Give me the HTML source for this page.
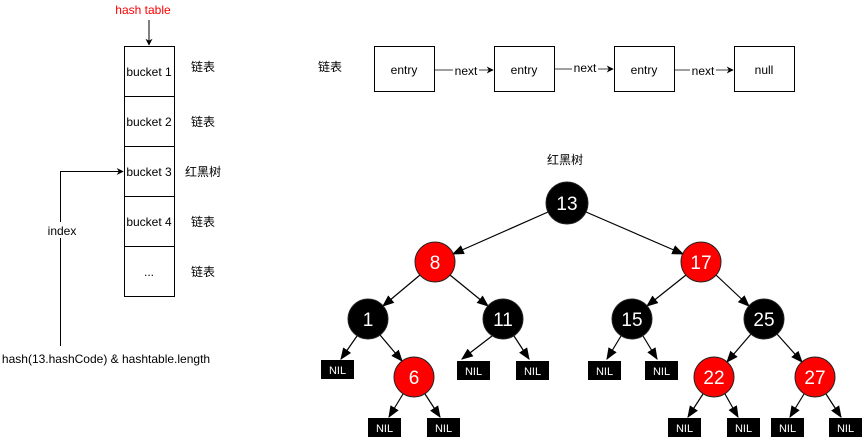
<!DOCTYPE html>
<html><head><meta charset="utf-8"><style>
html,body{margin:0;padding:0;background:#fff;}
svg{display:block;}
text{font-family:"Liberation Sans","Noto Sans CJK SC",sans-serif;}
</style></head><body>
<svg width="867" height="441" viewBox="0 0 867 441" xmlns="http://www.w3.org/2000/svg">
<defs>
<marker id="a" viewBox="0 0 10 10" refX="9" refY="5" markerWidth="7" markerHeight="7" orient="auto" markerUnits="userSpaceOnUse"><path d="M0,0 L10,5 L0,10 L3,5 z" fill="#000"/></marker>
<marker id="b" viewBox="0 0 10 10" refX="9" refY="5" markerWidth="12" markerHeight="12" orient="auto" markerUnits="userSpaceOnUse"><path d="M0,1 L10,5 L0,9 z" fill="#000"/></marker>
</defs>
<!-- hash table -->
<text x="143" y="14" font-size="12" fill="#ff0000" text-anchor="middle">hash table</text>
<line x1="149" y1="20" x2="149" y2="45" stroke="#000" stroke-width="1" marker-end="url(#a)"/>
<g fill="#fff" stroke="#000" stroke-width="1">
<rect x="124.5" y="46.5" width="50" height="50"/>
<rect x="124.5" y="96.5" width="50" height="50"/>
<rect x="124.5" y="146.5" width="50" height="50"/>
<rect x="124.5" y="196.5" width="50" height="50"/>
<rect x="124.5" y="246.5" width="50" height="50"/>
</g>
<g font-size="12" text-anchor="middle" fill="#000">
<text x="149" y="76">bucket 1</text>
<text x="149" y="126">bucket 2</text>
<text x="149" y="176">bucket 3</text>
<text x="149" y="226">bucket 4</text>
<text x="149" y="276">...</text>
<text x="203" y="71">链表</text>
<text x="203" y="126">链表</text>
<text x="203" y="176">红黑树</text>
<text x="203" y="226">链表</text>
<text x="203" y="276">链表</text>
<text x="62" y="235">index</text>
<text x="106" y="363">hash(13.hashCode) &amp; hashtable.length</text>
<text x="330" y="71">链表</text>
<text x="565" y="164">红黑树</text>
</g>
<polyline points="60.5,346 60.5,171.5 123,171.5" fill="none" stroke="#000" marker-end="url(#a)"/>
<rect x="45" y="222" width="34" height="16" fill="#fff"/>
<text x="62" y="235" font-size="12" text-anchor="middle">index</text>
<!-- linked list -->
<g fill="#fff" stroke="#000" stroke-width="1">
<rect x="374.5" y="46.5" width="60" height="45"/>
<rect x="494.5" y="46.5" width="60" height="45"/>
<rect x="614.5" y="46.5" width="60" height="45"/>
<rect x="734.5" y="46.5" width="60" height="45"/>
</g>
<g font-size="12" text-anchor="middle">
<text x="404" y="74">entry</text>
<text x="524" y="74">entry</text>
<text x="644" y="74">entry</text>
<text x="764" y="74">null</text>
</g>
<g stroke="#666" stroke-width="1.2">
<line x1="435" y1="70" x2="493" y2="70" marker-end="url(#a)"/>
<line x1="555" y1="69" x2="613" y2="69" marker-end="url(#a)"/>
<line x1="675" y1="70" x2="733" y2="70" marker-end="url(#a)"/>
</g>
<g font-size="12" text-anchor="middle">
<rect x="453" y="63" width="26" height="14" fill="#fff"/><text x="466" y="75">next</text>
<rect x="572" y="61" width="26" height="14" fill="#fff"/><text x="585" y="72">next</text>
<rect x="690" y="63" width="26" height="14" fill="#fff"/><text x="703" y="75">next</text>
</g>
<!-- tree edges -->
<g stroke="#000" stroke-width="1.2" marker-end="url(#b)">
<line x1="548" y1="212" x2="453" y2="254"/>
<line x1="586" y1="212" x2="683" y2="254"/>
<line x1="420" y1="275" x2="383" y2="306"/>
<line x1="450" y1="275" x2="488" y2="306"/>
<line x1="686" y1="275" x2="647" y2="306"/>
<line x1="716" y1="275" x2="749" y2="306"/>
<line x1="357" y1="336" x2="341" y2="359"/>
<line x1="380" y1="335" x2="402" y2="361"/>
<line x1="492" y1="336" x2="462" y2="359"/>
<line x1="514" y1="336" x2="529" y2="359"/>
<line x1="621" y1="336" x2="607" y2="359"/>
<line x1="643" y1="336" x2="657" y2="359"/>
<line x1="751" y1="334" x2="727" y2="362"/>
<line x1="777" y1="334" x2="802" y2="362"/>
<line x1="403" y1="394" x2="389" y2="417"/>
<line x1="425" y1="394" x2="440" y2="417"/>
<line x1="703" y1="394" x2="688" y2="417"/>
<line x1="725" y1="394" x2="738" y2="417"/>
<line x1="804" y1="394" x2="790" y2="417"/>
<line x1="826" y1="394" x2="841" y2="417"/>
</g>
<!-- nodes -->
<g stroke="#222" stroke-width="1">
<circle cx="567" cy="203" r="21" fill="#000"/>
<circle cx="435" cy="262" r="20" fill="#f00"/>
<circle cx="701" cy="262" r="20" fill="#f00"/>
<circle cx="368" cy="319" r="20" fill="#000"/>
<circle cx="503" cy="319" r="20" fill="#000"/>
<circle cx="632" cy="319" r="20" fill="#000"/>
<circle cx="764" cy="319" r="20" fill="#000"/>
<circle cx="414" cy="377" r="20" fill="#f00"/>
<circle cx="714" cy="377" r="20" fill="#f00"/>
<circle cx="815" cy="377" r="20" fill="#f00"/>
</g>
<g font-size="19" fill="#fff" text-anchor="middle" font-family="'DejaVu Sans',sans-serif">
<text x="567" y="210" font-family="'DejaVu Sans',sans-serif">13</text>
<text x="435" y="269" font-family="'DejaVu Sans',sans-serif">8</text>
<text x="701" y="269" font-family="'DejaVu Sans',sans-serif">17</text>
<text x="368" y="326" font-family="'DejaVu Sans',sans-serif">1</text>
<text x="503" y="326" font-family="'DejaVu Sans',sans-serif">11</text>
<text x="632" y="326" font-family="'DejaVu Sans',sans-serif">15</text>
<text x="764" y="326" font-family="'DejaVu Sans',sans-serif">25</text>
<text x="414" y="384" font-family="'DejaVu Sans',sans-serif">6</text>
<text x="714" y="384" font-family="'DejaVu Sans',sans-serif">22</text>
<text x="815" y="384" font-family="'DejaVu Sans',sans-serif">27</text>
</g>
<!-- NIL boxes -->
<g fill="#000">
<rect x="321" y="360" width="33" height="19"/>
<rect x="457" y="361" width="33" height="19"/>
<rect x="516" y="361" width="33" height="19"/>
<rect x="588" y="361" width="33" height="19"/>
<rect x="645" y="361" width="33" height="19"/>
<rect x="368" y="418" width="33" height="19"/>
<rect x="427" y="418" width="33" height="19"/>
<rect x="668" y="418" width="33" height="19"/>
<rect x="727" y="418" width="33" height="19"/>
<rect x="771" y="418" width="33" height="19"/>
<rect x="829" y="418" width="33" height="19"/>
</g>
<g font-size="11" fill="#fff" text-anchor="middle">
<text x="337.5" y="374" font-family="'DejaVu Sans',sans-serif">NIL</text>
<text x="473.5" y="375" font-family="'DejaVu Sans',sans-serif">NIL</text>
<text x="532.5" y="375" font-family="'DejaVu Sans',sans-serif">NIL</text>
<text x="604.5" y="375" font-family="'DejaVu Sans',sans-serif">NIL</text>
<text x="661.5" y="375" font-family="'DejaVu Sans',sans-serif">NIL</text>
<text x="384.5" y="432" font-family="'DejaVu Sans',sans-serif">NIL</text>
<text x="443.5" y="432" font-family="'DejaVu Sans',sans-serif">NIL</text>
<text x="684.5" y="432" font-family="'DejaVu Sans',sans-serif">NIL</text>
<text x="743.5" y="432" font-family="'DejaVu Sans',sans-serif">NIL</text>
<text x="787.5" y="432" font-family="'DejaVu Sans',sans-serif">NIL</text>
<text x="845.5" y="432" font-family="'DejaVu Sans',sans-serif">NIL</text>
</g>
</svg>
</body></html>
